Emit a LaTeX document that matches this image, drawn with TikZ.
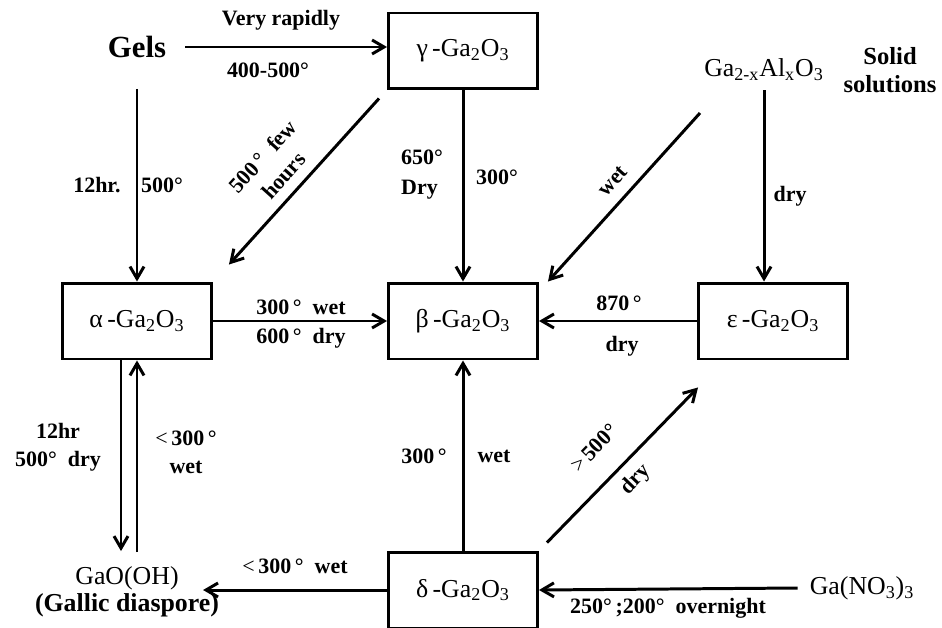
\documentclass[tikz,border=0pt]{standalone}
\usepackage{fontspec}
\setmainfont{Liberation Serif}
\usetikzlibrary{arrows.meta,calc}

\begin{document}
\begin{tikzpicture}[x=0.02cm, y=-0.02cm,
  phase/.style={draw, line width=1.7pt, minimum width=2.98cm, minimum height=1.52cm, inner sep=0pt, font=\fontsize{14.7}{17}\selectfont},
  chem/.style={font=\fontsize{14.7}{15.5}\selectfont, inner sep=1pt},
  lbl/.style={font=\fontsize{12.5}{16}\selectfont\bfseries, inner sep=1pt},
  arr/.style={-{Straight Barb[length=2.4mm, width=2.8mm]}, line width=1.7pt}]
\useasboundingbox (0,0) rectangle (942,628);

% phases
\node[phase] (gamma) at (463,51) {γ\,-Ga\textsubscript{2}O\textsubscript{3}};
\node[phase] (alpha) at (137,321) {α\,-Ga\textsubscript{2}O\textsubscript{3}};
\node[phase] (beta) at (463,321) {β\,-Ga\textsubscript{2}O\textsubscript{3}};
\node[phase] (eps) at (773,321) {ε\,-Ga\textsubscript{2}O\textsubscript{3}};
\node[phase] (delta) at (463,590) {δ\,-Ga\textsubscript{2}O\textsubscript{3}};

% starting materials
\node[inner sep=1pt, font=\fontsize{17.5}{20}\selectfont\bfseries] (gels) at (137,47) {Gels};
\node[chem] (gaal) at (764,70) {Ga\textsubscript{2-x}Al\textsubscript{x}O\textsubscript{3}};
\node[lbl, font=\fontsize{14}{16}\selectfont\bfseries, align=center] (solid) at (890,70) {Solid\\solutions};
\node[chem, align=center] (gaooh) at (127,592) {GaO(OH)\\\textbf{(Gallic diaspore)}};
\node[chem] (gano) at (862,588) {Ga(NO\textsubscript{3})\textsubscript{3}};
\coordinate (gaalwet) at (700,113);

% transformations
\draw[arr, shorten <=3.4mm] (gels.east) -- (gels.east -| gamma.west);
\draw[arr, shorten <=5.8mm] (gels.south) -- (alpha.north);
\draw[arr] ($(gamma.south west)+(-8,8)$) -- ($(alpha.north east)+(16,-17)$);
\draw[arr] (gamma) -- (beta);
\draw[arr] (gaalwet) -- ($(beta.north east)+(9,0)$);
\draw[arr, shorten <=1.4mm] (gaal.south) -- (gaal.south |- eps.north);
\draw[arr] (alpha) -- (beta);
\draw[arr] (eps) -- (beta);
\draw[arr, shorten >=2.7mm] ([xshift=-3.2mm]alpha.south) -- ([xshift=-3.2mm]alpha.south |- gaooh.north);
\draw[arr, shorten <=2.5mm] (alpha.south |- gaooh.north) -- (alpha.south);
\draw[arr] (delta) -- (beta);
\draw[arr] ($(delta.north east)+(8,-8)$) -- ($(eps.south west)+(1,27)$);
\draw[arr] (delta.west) -- ([xshift=-3.6mm]gaooh.east |- delta.west);
\draw[arr] ([xshift=-2mm]gano.west) -- (delta.east);

% conditions
\node[lbl] (l-rapid) at (281,20) {Very rapidly};
\node[lbl] (l-400) at (268,70) {400-500°};
\node[lbl] (l-12hr) at (97,185) {12hr.};
\node[lbl] (l-500) at (162,185) {500°};
\node[lbl, align=center, rotate=48] (l-few) at (273,166) {500\,°~~few\\hours};
\node[lbl, align=left, font=\fontsize{12.5}{17}\selectfont\bfseries] (l-650) at (422,175) {650°\\Dry};
\node[lbl] (l-300g) at (497,177) {300°};
\node[lbl, rotate=48] (l-wet) at (613,181) {wet};
\node[lbl] (l-dryss) at (790,196) {dry};
\node[lbl] (l-300w) at (301,307) {300\,°~~wet};
\node[lbl] (l-600d) at (301,338) {600\,°~~dry};
\node[lbl] (l-870) at (619,303) {870\,°};
\node[lbl] (l-dry870) at (622,346) {dry};
\node[lbl, align=center] (l-12hr2) at (58,447) {12hr\\500°~~dry};
\node[lbl, align=center] (l-lt300) at (186,452) {{\mdseries<}\,300\,°\\wet};
\node[lbl] (l-300d) at (424,456) {300\,°};
\node[lbl] (l-wetd) at (494,456) {wet};
\node[lbl, rotate=46] (l-gt500) at (594,448) {{\mdseries>}\,500°};
\node[lbl, rotate=46] (l-drygt) at (636,480) {dry};
\node[lbl] (l-lt300w) at (295,566) {{\mdseries<}\,300\,°~~wet};
\node[lbl] (l-250) at (668,608) {250°\,;200°~~overnight};
\end{tikzpicture}
\end{document}
